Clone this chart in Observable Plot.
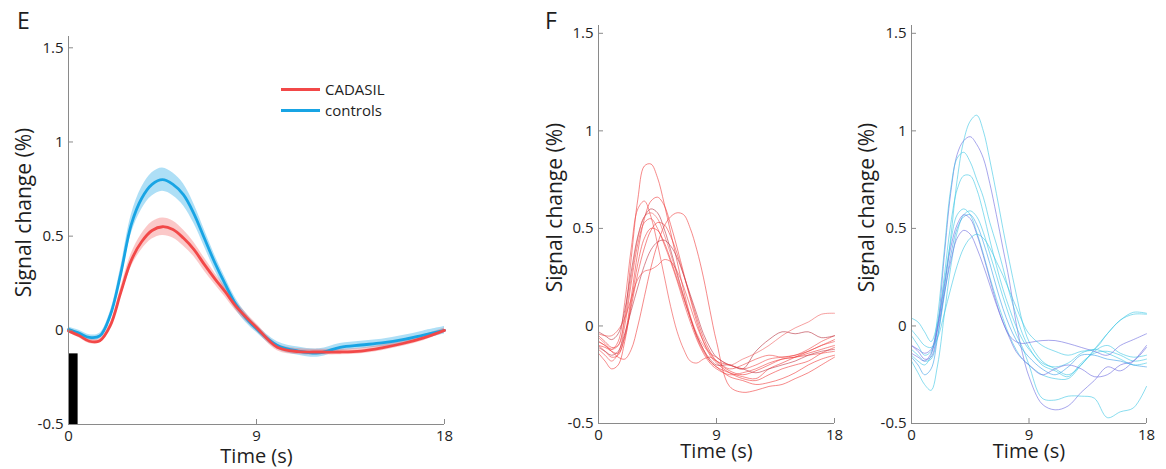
<!DOCTYPE html>
<html><head><meta charset="utf-8">
<script src="https://cdn.jsdelivr.net/npm/d3@7"></script>
<script src="https://cdn.jsdelivr.net/npm/@observablehq/plot@0.6"></script>
<style>
html,body{margin:0;padding:0;background:#fff;}
#root{position:relative;width:1166px;height:469px;overflow:hidden;font-family:"Open Sans",sans-serif;color:#1e1e1e;}
.panel{position:absolute;top:0;}
.letter{position:absolute;font-size:23px;line-height:1;}
.legrow{position:absolute;height:20px;display:flex;align-items:center;font-size:15px;line-height:20px;}
.legrow .sw{width:39px;height:3px;margin-right:5px;}
</style></head><body><div id="root"></div>
<script>
// ---------- data ----------
const timeGrid = [0,0.5,1,1.5,2,2.5,3,3.5,4,4.5,5,5.5,6,6.5,7,7.5,8,8.5,9,10,11,12,13,14,15,16,17,18];
const xTicks = [0, 9, 18];
const yTicks = [-0.5, 0, 0.5, 1, 1.5];

const cadasilMean  = [-0.003,-0.028,-0.058,-0.055,0.025,0.20,0.37,0.47,0.53,0.55,0.535,0.49,0.43,0.35,0.275,0.205,0.13,0.07,0.015,-0.09,-0.113,-0.115,-0.115,-0.11,-0.093,-0.07,-0.04,0];
const cadasilSem   = [0.01,0.012,0.012,0.012,0.015,0.025,0.035,0.042,0.045,0.046,0.045,0.042,0.038,0.035,0.03,0.028,0.025,0.022,0.02,0.018,0.016,0.015,0.015,0.015,0.015,0.015,0.015,0.012];
const controlsMean = [0.005,-0.015,-0.038,-0.03,0.08,0.30,0.56,0.70,0.775,0.80,0.775,0.72,0.62,0.49,0.36,0.245,0.14,0.065,0.008,-0.08,-0.11,-0.12,-0.09,-0.078,-0.067,-0.05,-0.025,0];
const controlsSem  = [0.012,0.015,0.015,0.015,0.02,0.035,0.05,0.058,0.062,0.062,0.06,0.058,0.052,0.045,0.04,0.035,0.03,0.025,0.02,0.02,0.022,0.022,0.02,0.02,0.02,0.022,0.022,0.02];

const stimulus = [{start: 0, end: 0.46, low: -0.5, high: -0.125}];

const cadasilSubjects = [
  [-0.05,-0.08,-0.11,-0.10,0.05,0.35,0.65,0.82,0.83,0.76,0.63,0.48,0.33,0.18,0.05,-0.06,-0.13,-0.18,-0.21,-0.24,-0.26,-0.27,-0.22,-0.19,-0.16,-0.13,-0.10,-0.07],
  [-0.08,-0.10,-0.12,-0.08,0.12,0.40,0.60,0.64,0.56,0.42,0.26,0.10,-0.03,-0.12,-0.18,-0.19,-0.17,-0.16,-0.18,-0.22,-0.20,-0.17,-0.15,-0.16,-0.15,-0.12,-0.08,-0.05],
  [-0.10,-0.13,-0.16,-0.15,-0.05,0.15,0.38,0.55,0.64,0.66,0.62,0.52,0.40,0.27,0.14,0.02,-0.08,-0.15,-0.19,-0.24,-0.27,-0.28,-0.25,-0.22,-0.20,-0.18,-0.14,-0.11],
  [-0.03,-0.05,-0.07,-0.04,0.08,0.28,0.46,0.56,0.60,0.58,0.50,0.39,0.27,0.15,0.04,-0.05,-0.12,-0.17,-0.20,-0.20,-0.22,-0.13,-0.07,-0.03,-0.04,-0.03,-0.06,-0.05],
  [-0.10,-0.11,-0.13,-0.16,-0.17,-0.12,0.00,0.15,0.30,0.42,0.51,0.56,0.58,0.57,0.50,0.39,0.25,0.08,-0.08,-0.31,-0.34,-0.33,-0.31,-0.30,-0.27,-0.24,-0.20,-0.16],
  [-0.12,-0.15,-0.18,-0.14,0.00,0.22,0.42,0.53,0.55,0.50,0.42,0.33,0.23,0.12,0.02,-0.07,-0.14,-0.19,-0.22,-0.25,-0.24,-0.22,-0.19,-0.17,-0.16,-0.15,-0.14,-0.13],
  [-0.06,-0.09,-0.12,-0.10,0.03,0.25,0.45,0.56,0.58,0.55,0.47,0.37,0.26,0.15,0.05,-0.04,-0.10,-0.14,-0.16,-0.20,-0.17,-0.14,-0.10,-0.05,-0.01,0.02,0.06,0.065],
  [-0.08,-0.10,-0.13,-0.14,-0.06,0.10,0.27,0.40,0.49,0.53,0.52,0.46,0.37,0.26,0.15,0.04,-0.06,-0.13,-0.18,-0.23,-0.25,-0.23,-0.20,-0.17,-0.16,-0.14,-0.12,-0.10],
  [-0.11,-0.13,-0.15,-0.13,-0.04,0.08,0.20,0.31,0.39,0.43,0.44,0.41,0.35,0.26,0.16,0.06,-0.04,-0.11,-0.16,-0.20,-0.22,-0.24,-0.22,-0.20,-0.18,-0.15,-0.13,-0.12],
  [-0.04,-0.05,-0.05,-0.02,0.04,0.14,0.24,0.28,0.29,0.31,0.34,0.33,0.28,0.20,0.10,0.00,-0.08,-0.14,-0.18,-0.20,-0.22,-0.20,-0.17,-0.16,-0.15,-0.13,-0.10,-0.08],
  [-0.14,-0.18,-0.22,-0.20,-0.08,0.12,0.32,0.45,0.50,0.49,0.43,0.34,0.24,0.14,0.04,-0.05,-0.12,-0.18,-0.21,-0.26,-0.28,-0.30,-0.29,-0.27,-0.24,-0.20,-0.17,-0.15]
];
const cadasilColors = ["#f03c3c","#f04848","#f03c3c","#b8323f","#f03c3c","#f04848","#f06060","#f03c3c","#c03545","#f04848","#f03c3c"];

const controlSubjects = [
  [-0.12,-0.15,-0.18,-0.17,-0.05,0.18,0.45,0.75,0.95,1.05,1.08,1.00,0.85,0.68,0.50,0.33,0.17,0.02,-0.08,-0.18,-0.22,-0.25,-0.20,-0.12,-0.04,0.03,0.06,0.06],
  [-0.10,-0.13,-0.17,-0.16,0.00,0.35,0.68,0.88,0.95,0.97,0.93,0.86,0.73,0.57,0.40,0.23,0.02,-0.14,-0.26,-0.40,-0.43,-0.41,-0.34,-0.28,-0.21,-0.23,-0.18,-0.10],
  [-0.15,-0.18,-0.20,-0.15,0.05,0.38,0.70,0.86,0.89,0.84,0.75,0.66,0.53,0.42,0.30,0.17,0.06,-0.04,-0.11,-0.20,-0.23,-0.26,-0.19,-0.14,-0.13,-0.15,-0.18,-0.17],
  [-0.05,-0.10,-0.15,-0.13,0.00,0.25,0.52,0.70,0.77,0.77,0.70,0.58,0.44,0.31,0.19,0.09,0.00,-0.07,-0.12,-0.19,-0.21,-0.19,-0.14,-0.12,-0.14,-0.17,-0.20,-0.19],
  [0.04,0.02,-0.03,-0.08,0.02,0.22,0.43,0.57,0.60,0.57,0.48,0.37,0.25,0.14,0.04,-0.05,-0.12,-0.17,-0.20,-0.25,-0.27,-0.27,-0.20,-0.13,-0.10,-0.14,-0.16,-0.15],
  [-0.18,-0.24,-0.30,-0.33,-0.20,0.05,0.30,0.48,0.57,0.59,0.56,0.48,0.37,0.26,0.15,0.05,-0.04,-0.11,-0.20,-0.37,-0.38,-0.36,-0.36,-0.37,-0.47,-0.44,-0.42,-0.31],
  [-0.10,-0.12,-0.14,-0.12,0.00,0.20,0.40,0.52,0.57,0.55,0.47,0.36,0.24,0.12,0.02,-0.05,-0.08,-0.09,-0.085,-0.075,-0.075,-0.09,-0.11,-0.13,-0.15,-0.10,-0.07,-0.04],
  [-0.14,-0.16,-0.18,-0.14,-0.02,0.16,0.33,0.45,0.49,0.47,0.40,0.31,0.21,0.11,0.02,-0.06,-0.13,-0.17,-0.20,-0.25,-0.22,-0.20,-0.22,-0.26,-0.25,-0.20,-0.18,-0.11],
  [-0.02,-0.06,-0.10,-0.11,-0.06,0.06,0.19,0.31,0.40,0.45,0.47,0.45,0.40,0.33,0.26,0.18,0.10,0.02,-0.04,-0.10,-0.13,-0.15,-0.13,-0.12,-0.04,0.03,0.07,0.065],
  [-0.16,-0.20,-0.25,-0.22,-0.06,0.15,0.36,0.50,0.56,0.57,0.52,0.43,0.32,0.20,0.09,0.00,-0.07,-0.12,-0.16,-0.22,-0.25,-0.21,-0.15,-0.15,-0.17,-0.18,-0.20,-0.21]
];
const controlColors = ["#3cc6e4","#6d6be0","#3cc6e4","#3cc6e4","#3cc6e4","#3cc6e4","#6d6be0","#6d6be0","#3cc6e4","#3a9ee8"];

const legendItems = [{label: "CADASIL", key: "cadasil"}, {label: "controls", key: "controls"}];

// ---------- styles ----------
const RED = "#f24848", BLUE = "#18a4e4";
const seriesColor = {cadasil: RED, controls: BLUE};
const AXIS = "#8a8a8a", TXT = "#1e1e1e";
const FONT = "'Open Sans', sans-serif";

function meanRows(mean, sem, key) {
  return timeGrid.map((t, i) => ({t, v: mean[i], lo: mean[i] - sem[i], hi: mean[i] + sem[i], key}));
}
function subjectRows(lines) {
  return lines.map(vals => timeGrid.map((t, i) => ({t, v: vals[i]})));
}

function axisMarks(o) {
  return [
    Plot.ruleX([0], {stroke: AXIS, strokeWidth: 1}),
    Plot.ruleY([-0.5], {stroke: AXIS, strokeWidth: 1}),
    Plot.axisY(yTicks, {tickSize: 0, tickPadding: 5, tickFormat: d => String(d), fontSize: 15, fill: TXT, label: null}),
    Plot.axisY(yTicks, {tickSize: 5, dx: 5, stroke: AXIS, tickFormat: () => "", label: null}),
    Plot.axisX(xTicks, {tickSize: 0, tickPadding: 6, tickFormat: d => String(d), fontSize: 15, fill: TXT, label: null}),
    Plot.axisX(xTicks, {tickSize: 5, dy: -5, stroke: AXIS, tickFormat: () => "", label: null}),
    Plot.text(["Signal change (%)"], {text: d => d, frameAnchor: "left", textAnchor: "middle", lineAnchor: "middle", rotate: -90, dx: o.ylDx, dy: o.ylDy, fontSize: 21, fill: TXT}),
    Plot.text(["Time (s)"], {text: d => d, frameAnchor: "bottom", textAnchor: "middle", lineAnchor: "middle", dy: o.xlDy, fontSize: 20, fill: TXT})
  ];
}

function place(svg, left) {
  const wrap = document.createElement("div");
  wrap.className = "panel";
  wrap.style.left = left + "px";
  wrap.appendChild(svg);
  document.getElementById("root").appendChild(wrap);
}

// ---------- panel E ----------
const eData = [...meanRows(controlsMean, controlsSem, "controls"), ...meanRows(cadasilMean, cadasilSem, "cadasil")];
const panelE = Plot.plot({
  width: 460, height: 469,
  marginLeft: 68, marginRight: 16, marginTop: 36, marginBottom: 45,
  x: {domain: [0, 18], label: null},
  y: {domain: [-0.5, 1.56], label: null},
  style: {fontFamily: FONT, background: "transparent", color: TXT},
  marks: [
    Plot.areaY(eData.filter(d => d.key === "controls"), {x: "t", y1: "lo", y2: "hi", fill: BLUE, fillOpacity: 0.35, curve: "catmull-rom"}),
    Plot.areaY(eData.filter(d => d.key === "cadasil"), {x: "t", y1: "lo", y2: "hi", fill: RED, fillOpacity: 0.3, curve: "catmull-rom"}),
    Plot.line(eData.filter(d => d.key === "controls"), {x: "t", y: "v", stroke: BLUE, strokeWidth: 2.8, curve: "catmull-rom"}),
    Plot.line(eData.filter(d => d.key === "cadasil"), {x: "t", y: "v", stroke: RED, strokeWidth: 2.8, curve: "catmull-rom"}),
    Plot.rect(stimulus, {x1: "start", x2: "end", y1: "low", y2: "high", fill: "#000"}),
    ...axisMarks({ylDx: -44, ylDy: -18, xlDy: 32})
  ]
});
place(panelE, 0);

// ---------- panel F (two) ----------
function subjectPanel(lines, colors, opts) {
  const rows = subjectRows(lines);
  return Plot.plot({
    width: opts.width, height: 469,
    marginLeft: opts.ml, marginRight: opts.mr, marginTop: 25, marginBottom: 46,
    x: {domain: [0, 18], label: null},
    y: {domain: [-0.5, 1.54], label: null},
    style: {fontFamily: FONT, background: "transparent", color: TXT},
    marks: [
      ...rows.map((r, i) => Plot.line(r, {x: "t", y: "v", stroke: colors[i], strokeOpacity: 0.6, strokeWidth: 1, curve: "catmull-rom"})),
      ...axisMarks({ylDx: opts.ylDx, ylDy: -17, xlDy: 28})
    ]
  });
}
place(subjectPanel(cadasilSubjects, cadasilColors, {width: 320, ml: 68, mr: 16, ylDx: -43}), 530);
place(subjectPanel(controlSubjects, controlColors, {width: 316, ml: 61, mr: 20, ylDx: -44}), 850);

// ---------- letters & legend ----------
const root = document.getElementById("root");
[["E", 17], ["F", 545]].forEach(([txt, x]) => {
  const d = document.createElement("div");
  d.className = "letter"; d.textContent = txt;
  d.style.left = x + "px"; d.style.top = "9px";
  root.appendChild(d);
});
legendItems.forEach((item, i) => {
  const row = document.createElement("div");
  row.className = "legrow";
  row.style.left = "281px";
  row.style.top = (79 + i * 21) + "px";
  const sw = document.createElement("span");
  sw.className = "sw"; sw.style.background = seriesColor[item.key];
  const lab = document.createElement("span");
  lab.textContent = item.label;
  row.appendChild(sw); row.appendChild(lab);
  root.appendChild(row);
});
</script></body></html>
